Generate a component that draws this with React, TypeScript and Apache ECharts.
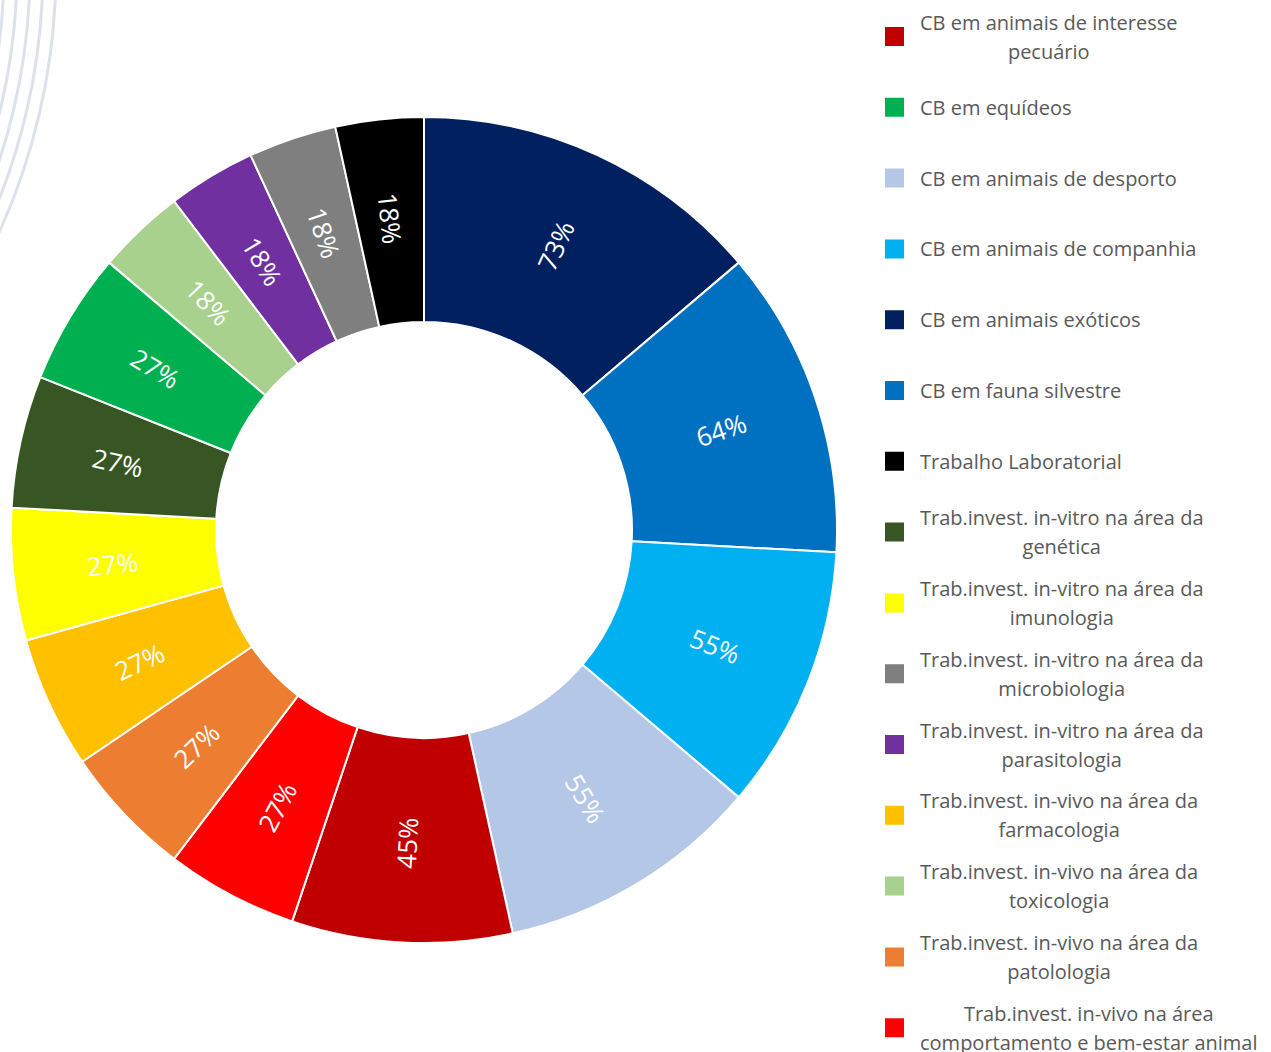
import React, { useEffect, useRef } from "react";
import * as echarts from "echarts";

// Slices, clockwise from 12 o'clock
const sliceNames = [
  "CB em animais exóticos",
  "CB em fauna silvestre",
  "CB em animais de companhia",
  "CB em animais de desporto",
  "CB em animais de interesse\npecuário",
  "Trab.invest. in-vivo na área\ncomportamento e bem-estar animal",
  "Trab.invest. in-vivo na área da\npatolologia",
  "Trab.invest. in-vivo na área da\nfarmacologia",
  "Trab.invest. in-vitro na área da\nimunologia",
  "Trab.invest. in-vitro na área da\ngenética",
  "CB em equídeos",
  "Trab.invest. in-vivo na área da\ntoxicologia",
  "Trab.invest. in-vitro na área da\nparasitologia",
  "Trab.invest. in-vitro na área da\nmicrobiologia",
  "Trabalho Laboratorial",
];
// answers out of 11 respondents (73%, 64%, 55%, 55%, 45%, 27% x6, 18% x4)
const sliceCounts = [8, 7, 6, 6, 5, 3, 3, 3, 3, 3, 3, 2, 2, 2, 2];
const totalRespondents = 11;
const sliceColors = [
  "#002060", "#0070C0", "#00B0F0", "#B4C7E7", "#C00000",
  "#FF0000", "#ED7D31", "#FFC000", "#FFFF00", "#375623",
  "#00B050", "#A9D18E", "#7030A0", "#7F7F7F", "#000000",
];
const legendOrder = [
  "CB em animais de interesse\npecuário",
  "CB em equídeos",
  "CB em animais de desporto",
  "CB em animais de companhia",
  "CB em animais exóticos",
  "CB em fauna silvestre",
  "Trabalho Laboratorial",
  "Trab.invest. in-vitro na área da\ngenética",
  "Trab.invest. in-vitro na área da\nimunologia",
  "Trab.invest. in-vitro na área da\nmicrobiologia",
  "Trab.invest. in-vitro na área da\nparasitologia",
  "Trab.invest. in-vivo na área da\nfarmacologia",
  "Trab.invest. in-vivo na área da\ntoxicologia",
  "Trab.invest. in-vivo na área da\npatolologia",
  "Trab.invest. in-vivo na área\ncomportamento e bem-estar animal",
];
const decoRadii = [639, 626, 613, 600, 587];

const FONT = "'Open Sans', 'Noto Sans', sans-serif";

export default function App() {
  const ref = useRef<HTMLDivElement>(null);
  useEffect(() => {
    if (!ref.current) return;
    const chart = echarts.init(ref.current, undefined, { renderer: "svg" });
    chart.setOption({
      animation: false,
      backgroundColor: "#ffffff",
      graphic: decoRadii.map((r) => ({
        type: "circle",
        z: -10,
        silent: true,
        shape: { cx: -583, cy: -31, r },
        style: { fill: "none", stroke: "#DDE2EA", lineWidth: 3 },
      })),
      legend: {
        orient: "vertical",
        left: 883,
        top: 7.5,
        height: 1200,
        padding: 0,
        itemWidth: 21,
        itemHeight: 21,
        itemGap: 12.8,
        icon: "rect",
        selectedMode: false,
        data: legendOrder,
        formatter: (name: string) => {
          const lines = name.split("\n");
          if (lines.length === 1) return `{s|${name}}`;
          return lines.map((l) => `{d|${l}}`).join("\n");
        },
        textStyle: {
          color: "#595959",
          fontFamily: FONT,
          fontSize: 20,
          padding: [0, 0, 0, 10],
          backgroundColor: "rgba(255,255,255,0)",
          rich: {
            s: { lineHeight: 58, fontSize: 20, fontFamily: FONT, color: "#595959", align: "center" },
            d: { lineHeight: 29, fontSize: 20, fontFamily: FONT, color: "#595959", align: "center" },
          },
        },
      },
      series: [
        {
          type: "pie",
          center: [424, 530],
          radius: [208, 413],
          startAngle: 90,
          clockwise: true,
          avoidLabelOverlap: false,
          label: {
            show: true,
            position: "inside",
            rotate: "radial",
            color: "#ffffff",
            fontSize: 26,
            fontFamily: FONT,
            formatter: (p: any) =>
              Math.round((sliceCounts[p.dataIndex] / totalRespondents) * 100) + "%",
          },
          labelLine: { show: false },
          emphasis: { disabled: true },
          itemStyle: { borderColor: "#ffffff", borderWidth: 2 },
          data: sliceNames.map((name, i) => ({
            name,
            value: sliceCounts[i],
            itemStyle: { color: sliceColors[i] },
          })),
        },
      ],
    });
    return () => chart.dispose();
  }, []);
  return (
    <div
      ref={ref}
      style={{ position: "absolute", left: 0, top: 0, width: 1271, height: 1052 }}
    />
  );
}
